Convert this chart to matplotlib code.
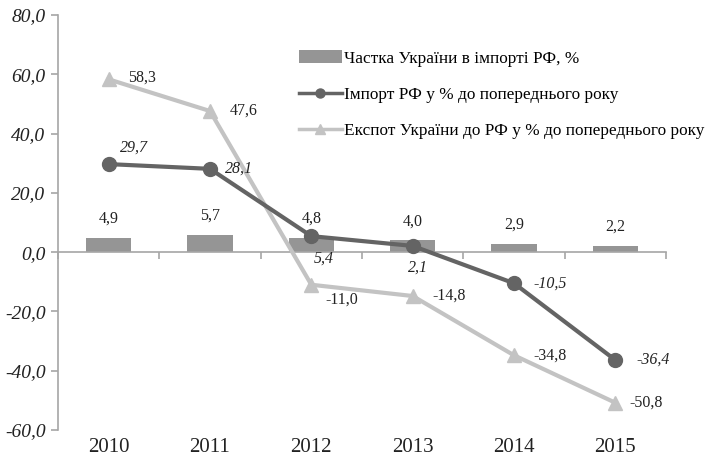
import matplotlib
matplotlib.use("Agg")
import matplotlib.pyplot as plt

plt.rcParams['font.family'] = ['Liberation Serif', 'DejaVu Serif']

years = ['2010', '2011', '2012', '2013', '2014', '2015']
share = [4.9, 5.7, 4.8, 4.0, 2.9, 2.2]
imports = [29.7, 28.1, 5.4, 2.1, -10.5, -36.4]
exports = [58.3, 47.6, -11.0, -14.8, -34.8, -50.8]

share_label = 'Частка України в імпорті РФ, %'
import_label = 'Імпорт РФ у % до попереднього року'
export_label = 'Експот України до РФ у % до попереднього року'

imp_off = [(18, 12), (21, 0), (9, -16), (4, -16), (26, 0), (27, 0)]
exp_off = [(24, 1), (24, 0), (22, -11), (26, 0), (26, 0), (22, 0)]

def fmt(v):
    return f'{v:.1f}'.replace('.', ',')

fig = plt.figure(figsize=(7.06, 4.61), dpi=100)
ax = fig.add_axes([58/706, 1 - 430/461, (666 - 58)/706, (430 - 15)/461])

x = list(range(len(years)))
bars = ax.bar(x, share, width=0.45, color='#959595', zorder=2)
l1, = ax.plot(x, imports, color='#646464', lw=3, marker='o', ms=10, zorder=4)
l2, = ax.plot(x, exports, color='#c3c3c3', lw=3, marker='^', ms=10, zorder=3)

txt = '#222222'
for i, v in enumerate(share):
    ax.annotate(fmt(v), (i, v), xytext=(0, 8), textcoords='offset points',
                ha='center', va='bottom', fontsize=11.5, color=txt)
for i, v in enumerate(imports):
    ax.annotate(fmt(v), (i, v), xytext=imp_off[i], textcoords='offset points',
                ha='center', va='center', fontsize=11.5, style='italic', color=txt)
for i, v in enumerate(exports):
    ax.annotate(fmt(v), (i, v), xytext=exp_off[i], textcoords='offset points',
                ha='center', va='center', fontsize=11.5, color=txt)

ax.set_xlim(-0.5, 5.5)
ax.set_ylim(-60, 80)
ax.set_yticks(range(-60, 81, 20))
ax.set_yticklabels([fmt(v) for v in range(-60, 81, 20)], style='italic',
                   fontsize=14, color=txt)

gray = '#a6a6a6'
for s in ['top', 'right']:
    ax.spines[s].set_visible(False)
ax.spines['left'].set_color(gray)
ax.spines['left'].set_linewidth(1.2)
ax.spines['bottom'].set_position(('data', 0))
ax.spines['bottom'].set_color(gray)
ax.spines['bottom'].set_linewidth(1.2)
ax.tick_params(axis='y', length=5, color=gray, width=1.2, pad=4)
ax.set_xticks([i - 0.5 for i in range(len(years) + 1)])
ax.set_xticklabels([])
ax.tick_params(axis='x', length=5, color=gray, width=1.2)

sec = ax.secondary_xaxis('bottom')
sec.set_xticks(x)
sec.set_xticklabels(years, fontsize=15, color=txt)
sec.tick_params(length=0, pad=6)
sec.spines['bottom'].set_visible(False)

leg = fig.legend([bars, l1, l2], [share_label, import_label, export_label],
                 loc='upper left', bbox_to_anchor=(283/706, 1 - 35/461),
                 frameon=False, fontsize=12.4, handlelength=2.55,
                 handletextpad=0.08, labelspacing=1.18, markerscale=0.65)
for h in leg.legend_handles[1:]:
    h.set_linewidth(2.5)

fig.savefig('out.png', dpi=100)
